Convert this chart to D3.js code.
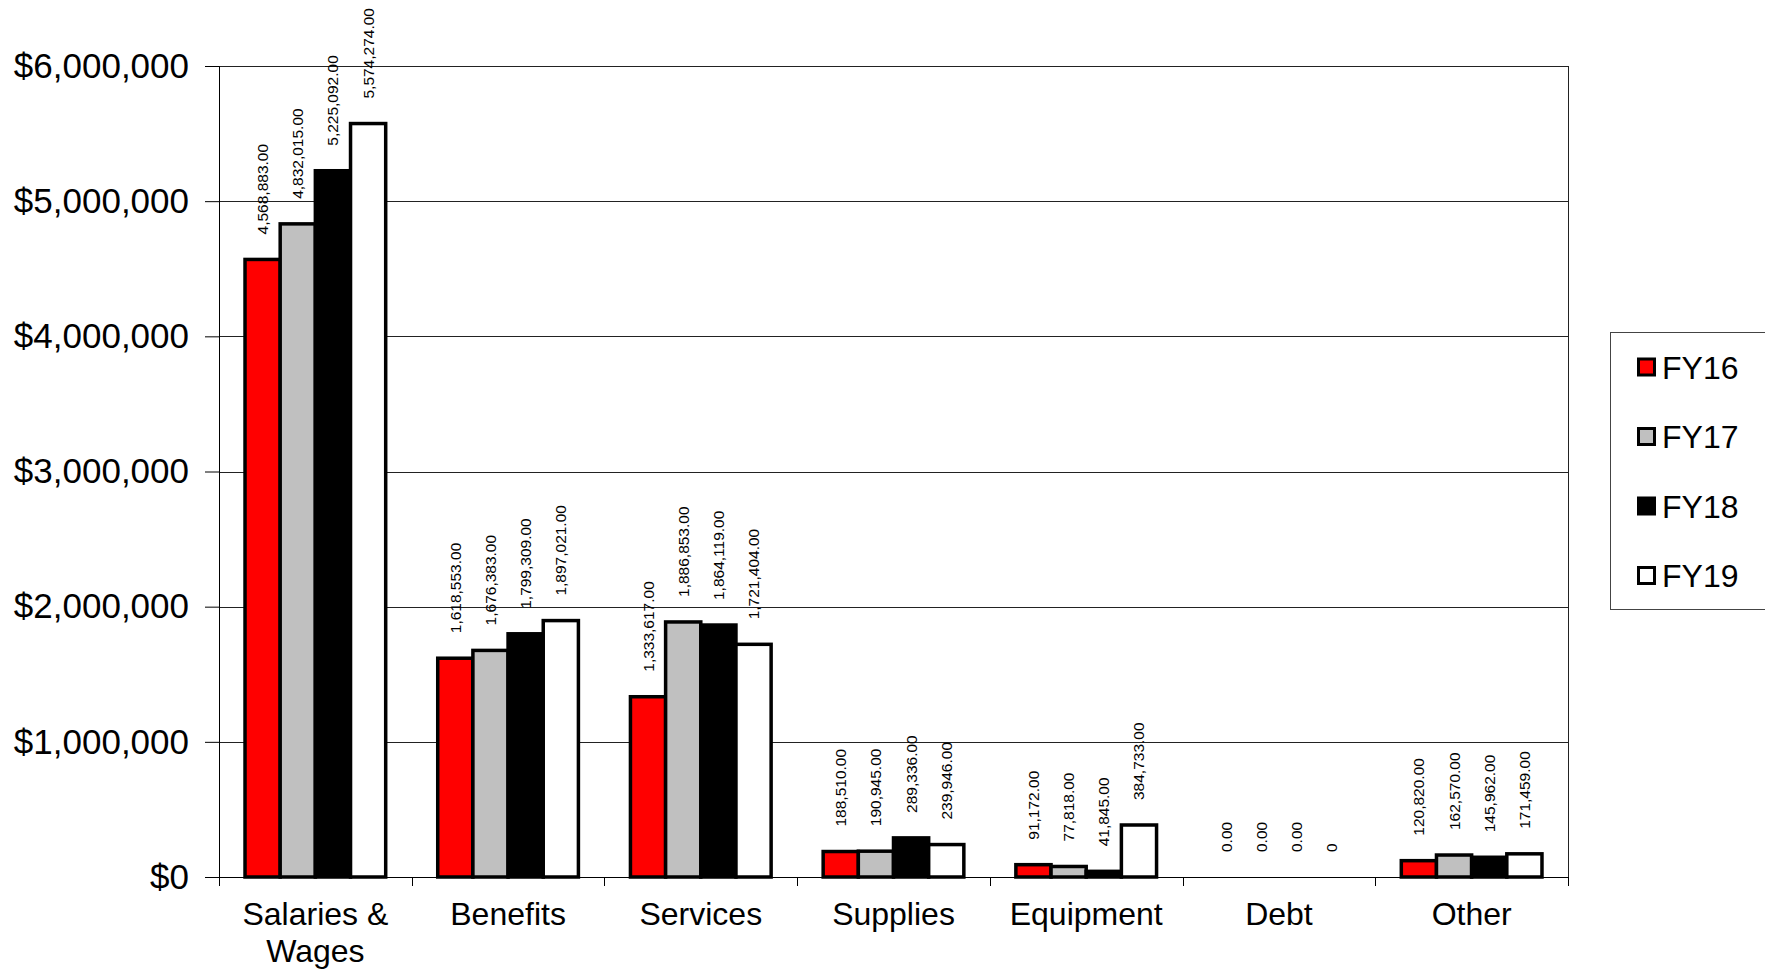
<!DOCTYPE html>
<html lang="en">
<head>
	<meta charset="UTF-8">
	<title>Expenditures FY16 - FY19</title>
	<style>
		html, body {width: 100%; height: 100%; padding: 0; margin: 0; background: #fff;}
		svg {display: block; font-family: "Liberation Sans", Arial, sans-serif;}
		.grid line {stroke: #222; stroke-width: 1px; shape-rendering: crispEdges;}
		.bar {stroke: #000; stroke-width: 3.5px;}
	</style>
	<script src="https://d3js.org/d3.v7.min.js"></script>
</head>
<body>

<script>
	// categories along the x axis
	var categories = ['Salaries & Wages', 'Benefits', 'Services', 'Supplies', 'Equipment', 'Debt', 'Other'];
	// one series per fiscal year
	var seriesNames = ['FY16', 'FY17', 'FY18', 'FY19'];
	var fy16 = [4568883, 1618553, 1333617, 188510, 91172, 0, 120820];
	var fy17 = [4832015, 1676383, 1886853, 190945, 77818, 0, 162570];
	var fy18 = [5225092, 1799309, 1864119, 289336, 41845, 0, 145962];
	var fy19 = [5574274, 1897021, 1721404, 239946, 384733, 0, 171459];
	// the Debt label of FY19 reads "0", all others carry two decimals
	var fy19Labels = ['5,574,274.00', '1,897,021.00', '1,721,404.00', '239,946.00', '384,733.00', '0', '171,459.00'];
	var yTicks = [0, 1000000, 2000000, 3000000, 4000000, 5000000, 6000000];
	var seriesColors = ['#ff0000', '#c0c0c0', '#000000', '#ffffff'];
</script>

<script>
	var width = 1765;
	var height = 969;
	var margin = {left: 219, top: 66, right: 197, bottom: 92};
	var innerW = width - margin.left - margin.right;
	var innerH = height - margin.top - margin.bottom;

	var seriesValues = [fy16, fy17, fy18, fy19];
	var fmt = d3.format(',.2f');

	var svg = d3.select('body').append('svg')
		.attr('width', width)
		.attr('height', height);

	var g = svg.append('g').attr('transform', 'translate(' + margin.left + ',' + margin.top + ')');

	var x = d3.scaleBand()
		.domain(categories)
		.range([0, innerW])
		.padding(0);
	var bw = x.bandwidth();
	var x1 = d3.scaleBand()
		.domain(seriesNames)
		.range([bw * 0.135, bw * 0.865])
		.padding(0);
	var y = d3.scaleLinear()
		.domain([0, 6000000])
		.range([innerH, 0]);

	// gridlines
	g.append('g')
		.attr('class', 'grid')
		.selectAll('line')
		.data(yTicks)
		.enter().append('line')
		.attr('x1', 0)
		.attr('x2', innerW)
		.attr('y1', function (d) { return Math.round(y(d)) + 0.5; })
		.attr('y2', function (d) { return Math.round(y(d)) + 0.5; });

	// right border of the plot
	g.append('line')
		.attr('x1', innerW + 0.5).attr('x2', innerW + 0.5)
		.attr('y1', 0).attr('y2', innerH)
		.attr('stroke', '#222');

	// y axis
	var yAxis = g.append('g')
		.call(d3.axisLeft(y)
			.tickValues(yTicks)
			.tickSize(14)
			.tickPadding(16)
			.tickFormat(function (d) { return '$' + d3.format(',')(d); }));
	yAxis.select('.domain').attr('stroke', '#000');
	yAxis.selectAll('.tick line').attr('stroke', '#000');
	yAxis.selectAll('text')
		.attr('font-family', '"Liberation Sans", Arial, sans-serif')
		.attr('font-size', 35)
		.attr('fill', '#000');

	// x axis: ticks sit on the category boundaries
	var xa = g.append('g').attr('transform', 'translate(0,' + innerH + ')');
	xa.append('line')
		.attr('x1', 0).attr('x2', innerW)
		.attr('y1', 0.5).attr('y2', 0.5)
		.attr('stroke', '#000');
	xa.selectAll('.xtick')
		.data(d3.range(categories.length + 1))
		.enter().append('line')
		.attr('class', 'xtick')
		.attr('x1', function (i) { return Math.round(i * bw) + 0.5; })
		.attr('x2', function (i) { return Math.round(i * bw) + 0.5; })
		.attr('y1', 0).attr('y2', 9)
		.attr('stroke', '#000');

	var catLabel = xa.selectAll('.cat')
		.data(categories)
		.enter().append('text')
		.attr('class', 'cat')
		.attr('text-anchor', 'middle')
		.attr('font-size', 32)
		.attr('fill', '#000')
		.attr('transform', function (d) { return 'translate(' + (x(d) + bw / 2) + ',0)'; });
	catLabel.each(function (d) {
		var lines = d === 'Salaries & Wages' ? ['Salaries &', 'Wages'] : [d];
		var t = d3.select(this);
		lines.forEach(function (l, i) {
			t.append('tspan').attr('x', 0).attr('y', 48 + i * 37).text(l);
		});
	});

	// bars
	var groups = g.selectAll('.series')
		.data(seriesNames)
		.enter().append('g')
		.attr('class', 'series');

	groups.each(function (s, si) {
		var vals = seriesValues[si];
		var sel = d3.select(this);
		sel.selectAll('rect')
			.data(categories)
			.enter().append('rect')
			.attr('class', 'bar')
			.attr('fill', seriesColors[si])
			.attr('x', function (c) { return x(c) + x1(s); })
			.attr('width', x1.bandwidth())
			.attr('y', function (c, ci) { return y(vals[ci]); })
			.attr('height', function (c, ci) { return innerH - y(vals[ci]); })
			.style('display', function (c, ci) { return vals[ci] > 0 ? null : 'none'; });

		sel.selectAll('text')
			.data(categories)
			.enter().append('text')
			.attr('font-size', 15.5)
			.attr('fill', '#000')
			.attr('text-anchor', 'start')
			.attr('dominant-baseline', 'central')
			.attr('transform', function (c, ci) {
				var cx = x(c) + x1(s) + x1.bandwidth() / 2;
				return 'translate(' + cx + ',' + (y(vals[ci]) - 25) + ') rotate(-90)';
			})
			.text(function (c, ci) { return si === 3 ? fy19Labels[ci] : fmt(vals[ci]); });
	});

	// legend
	var lg = svg.append('g').attr('transform', 'translate(1610,332)');
	lg.append('rect')
		.attr('x', 0.5).attr('y', 0.5)
		.attr('width', 200).attr('height', 277)
		.attr('fill', '#fff')
		.attr('stroke', '#444');
	var item = lg.selectAll('.item')
		.data(seriesNames)
		.enter().append('g')
		.attr('class', 'item')
		.attr('transform', function (d, i) { return 'translate(27,' + (35 + i * 69.5) + ')'; });
	item.append('rect')
		.attr('x', 1.5).attr('y', -8)
		.attr('width', 16).attr('height', 16)
		.attr('fill', function (d, i) { return seriesColors[i]; })
		.attr('stroke', '#000')
		.attr('stroke-width', 3);
	item.append('text')
		.attr('x', 25)
		.attr('dy', '0.36em')
		.attr('font-size', 32)
		.attr('fill', '#000')
		.text(function (d) { return d; });
</script>

</body>
</html>
